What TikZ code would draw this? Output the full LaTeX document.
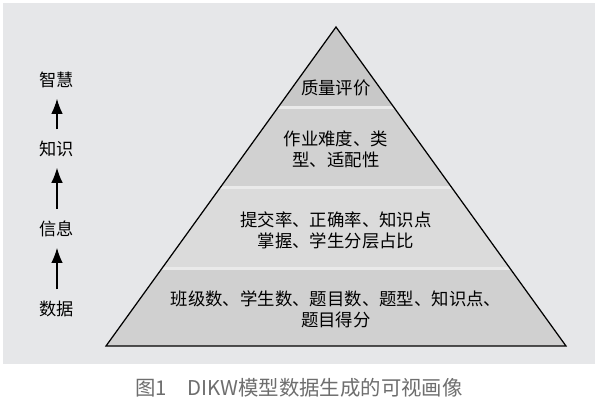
\documentclass[tikz,border=0pt]{standalone}
\usepackage{fontspec}
\setmainfont{Noto Sans CJK SC}
\usetikzlibrary{arrows.meta,positioning}
\definecolor{panel}{HTML}{E6E7E9}
\definecolor{gapc}{HTML}{EAEAEA}
\definecolor{bandA}{HTML}{C8C8C8}
\definecolor{bandB}{HTML}{D1D1D1}
\definecolor{bandC}{HTML}{DBDBDB}
\definecolor{bandD}{HTML}{D0D0D0}
\definecolor{capc}{HTML}{6E6E6E}

\begin{document}
\begin{tikzpicture}[x=0.02cm,y=-0.02cm,
    lvl/.style={align=center,font=\fontsize{9.9}{12}\selectfont,inner sep=1pt},
    tag/.style={font=\fontsize{9.8}{11}\selectfont,inner sep=1pt},
    up/.style={-{Latex[length=8.5pt,width=6.5pt]},line width=0.6pt,shorten <=5.5pt,shorten >=5pt}]
  \useasboundingbox (0,0) rectangle (600,410);
  \fill[white] (0,0) rectangle (600,410);
  \fill[panel] (3,3) rectangle (595,364);
  \coordinate (apex) at (336,27);
  \coordinate (bl) at (106,346);
  \coordinate (br) at (566,346);
  \begin{scope}
    \clip (apex) -- (bl) -- (br) -- cycle;
    \fill[gapc] (100,20) rectangle (570,350);
    \foreach \ya/\yb/\fc in {20/105.5/bandA, 108.5/186/bandB, 189/266.5/bandC, 269.5/350/bandD}
      \fill[\fc] (100,\ya) rectangle (570,\yb);
  \end{scope}
  \draw[line width=0.7pt] (bl) -- (apex) -- (br) -- cycle;
  \foreach \txt/\yy [count=\i] in {
      {质量评价}/88,
      {作业难度、类\\型、适配性}/149,
      {提交率、正确率、知识点\\掌握、学生分层占比}/230,
      {班级数、学生数、题目数、题型、知识点、\\题目得分}/309}
    \node[lvl] (lv\i) at (336,\yy) {\txt};
  \node[tag] (wis) at (57,80) {智慧};
  \node[tag] (kno) at (57,149) {知识};
  \node[tag] (inf) at (57,229) {信息};
  \node[tag] (dat) at (57,309) {数据};
  \draw[up] (dat) -- (inf);
  \draw[up] (inf) -- (kno);
  \draw[up] (kno) -- (wis);
  \node[font=\fontsize{11.6}{13}\selectfont,text=capc] (cap) at (299,388)
    {图1\hspace{1em}DIKW模型数据生成的可视画像};
\end{tikzpicture}
\end{document}
